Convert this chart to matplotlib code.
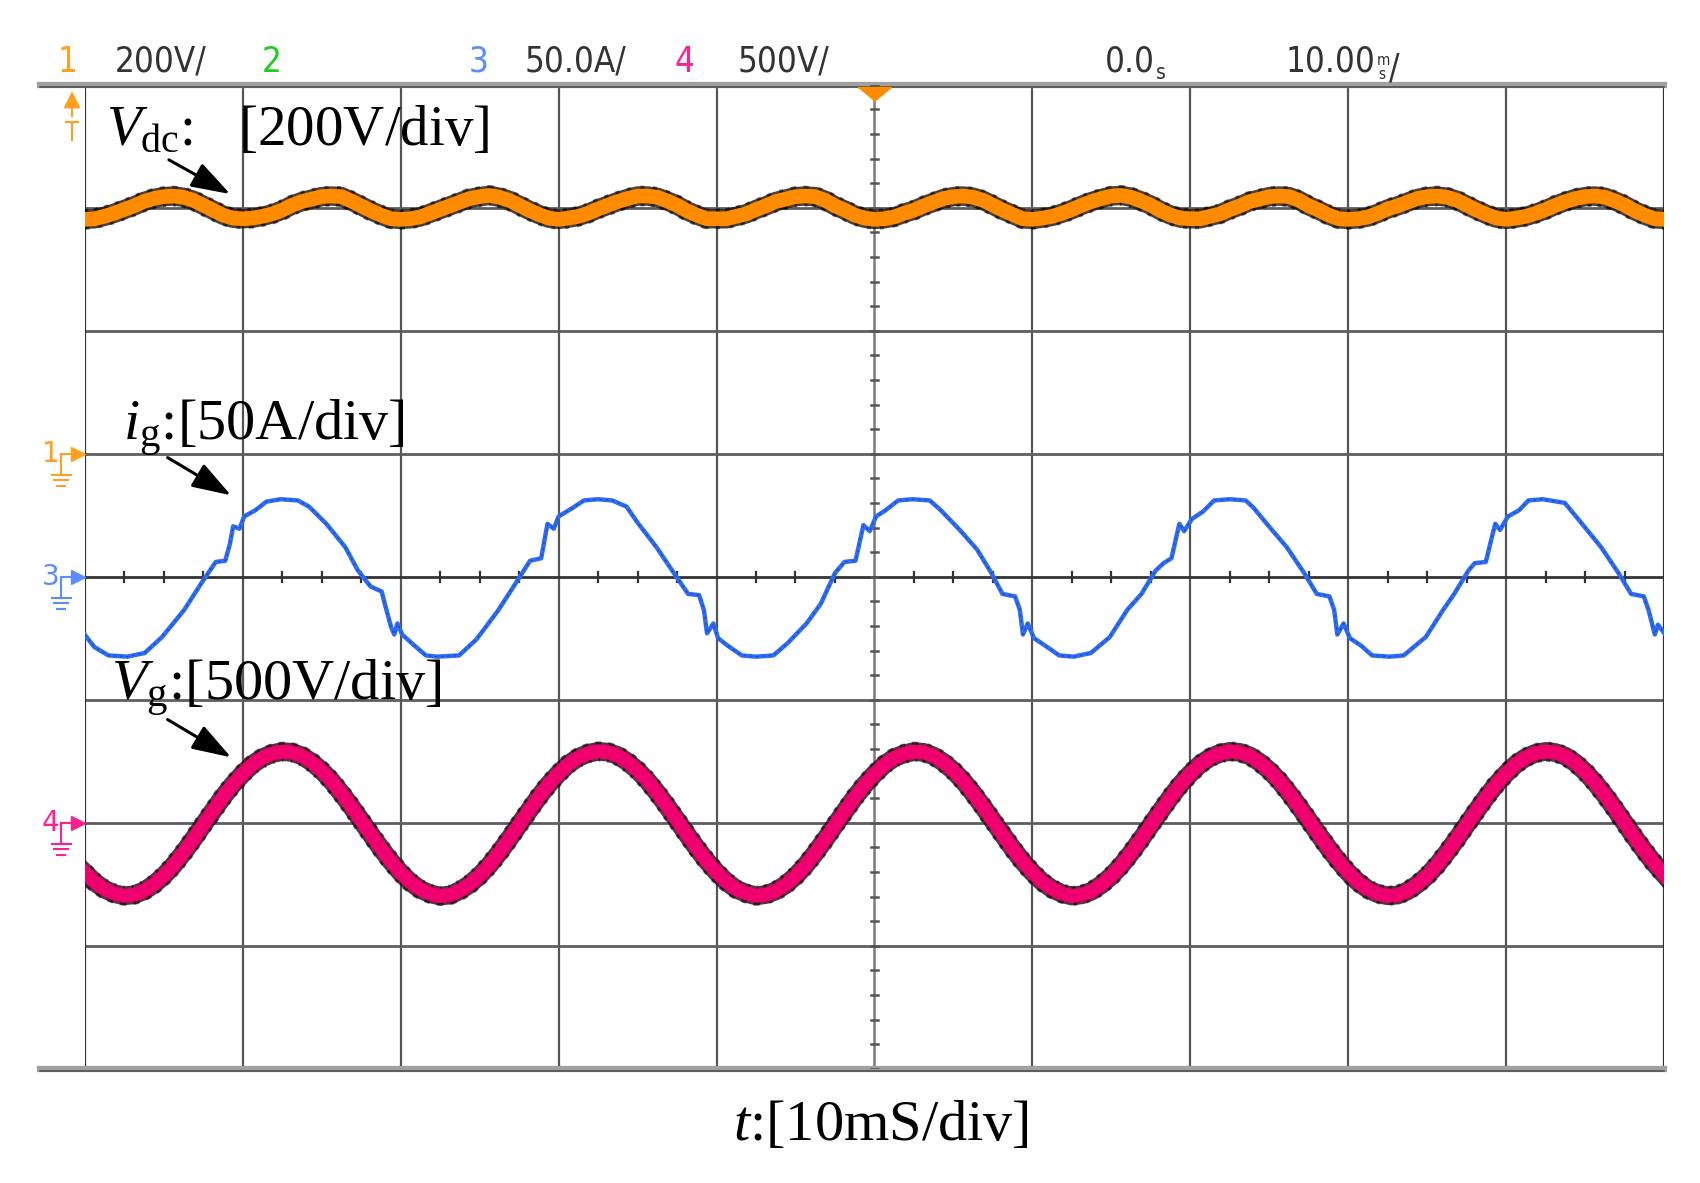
import matplotlib
matplotlib.use('Agg')
import matplotlib.pyplot as plt
import numpy as np

plt.rcParams['mathtext.fontset'] = 'custom'
plt.rcParams['mathtext.rm'] = 'Liberation Serif'
plt.rcParams['mathtext.it'] = 'Liberation Serif:italic'

narrow = ['Liberation Sans Narrow', 'DejaVu Sans Condensed', 'DejaVu Sans']
serif = ['Liberation Serif', 'DejaVu Serif']

# scope settings
ms_div = 10.0        # time base
vdc_div = 200.0      # ch1
ig_div = 50.0        # ch3
vg_div = 500.0       # ch4

# ground levels of the channels (in divisions from screen centre)
gnd1 = 1.0
gnd3 = 0.0
gnd4 = -2.0

# sample clock of ch1 / ch4 (ms)
t_samp = np.arange(0, 100.001, 0.625)

# ch1: dc link voltage (V), 100 Hz ripple
vdc = [381, 382, 386, 391, 397, 403, 410, 415, 418, 419, 417, 412, 404, 396, 388, 383,
       382, 383, 386, 390, 396, 404, 410, 414, 418, 419, 418, 411, 403, 395, 388, 382,
       381, 382, 385, 391, 397, 403, 409, 415, 418, 420, 417, 412, 404, 396, 389, 383,
       381, 383, 386, 391, 398, 404, 410, 415, 419, 419, 417, 411, 404, 395, 388, 382,
       382, 382, 386, 390, 397, 403, 410, 414, 418, 419, 418, 412, 403, 396, 388, 383,
       381, 382, 385, 391, 396, 403, 409, 415, 418, 419, 417, 412, 404, 396, 389, 382,
       381, 383, 386, 391, 397, 404, 410, 415, 419, 420, 417, 411, 404, 395, 388, 383,
       382, 382, 386, 390, 397, 403, 410, 414, 418, 419, 418, 412, 403, 396, 388, 382,
       381, 382, 385, 391, 398, 403, 409, 415, 418, 419, 417, 412, 404, 396, 389, 383,
       381, 383, 386, 391, 397, 404, 410, 415, 418, 419, 417, 411, 404, 395, 388, 382,
       381]

# ch4: grid voltage (V)
vg = [-202, -241, -270, -288, -297, -293, -277, -251, -216, -173, -122, -67, -9, 48, 104, 155,
      199, 237, 264, 281, 289, 286, 272, 246, 212, 170, 120, 66, 9, -48, -104, -156,
      -203, -242, -271, -289, -298, -294, -276, -250, -215, -172, -121, -66, -8, 49, 105, 156,
      200, 238, 265, 282, 290, 287, 273, 247, 213, 171, 121, 67, 10, -47, -103, -155,
      -201, -240, -270, -287, -297, -292, -277, -252, -217, -174, -123, -68, -10, 47, 103, 154,
      198, 236, 264, 280, 289, 286, 271, 245, 211, 169, 119, 65, 8, -49, -105, -157,
      -202, -241, -269, -288, -298, -293, -278, -251, -216, -173, -122, -67, -9, 48, 104, 156,
      200, 238, 265, 282, 290, 286, 272, 246, 212, 170, 120, 66, 9, -48, -104, -156,
      -203, -242, -271, -289, -297, -294, -277, -250, -215, -171, -120, -65, -7, 50, 106, 157,
      201, 239, 266, 283, 290, 285, 270, 243, 206, 162, 111, 56, -2, -60, -115, -166,
      -212]

# ch3: grid current (ms, A)
t_ig = [0, 0.6, 1.5, 2.7, 3.8, 4.9, 6.3, 7.4, 8.3, 8.9, 9.2, 9.4, 9.8, 10.1, 10.8, 11.5,
        12.4, 13.5, 14.2, 15.3, 16.5, 17.3, 18.1, 18.8, 19.0, 19.4, 19.6, 19.8, 20.1, 20.7,
        21.6, 22.3, 23.7, 24.8, 26.2, 27.3, 28.2, 28.9, 29.3, 29.7, 30.0, 30.9, 31.6, 32.5,
        33.4, 34.3, 35.0, 36.2, 37.3, 38.2, 38.9, 39.2, 39.4, 39.8, 40.1, 40.7, 41.6, 42.5,
        43.6, 44.5, 45.7, 46.6, 47.5, 48.1, 48.8, 49.3, 49.7, 50.1, 50.7, 51.5, 52.4, 53.5,
        54.2, 55.4, 56.5, 57.4, 58.1, 58.9, 59.2, 59.4, 59.7, 60.1, 60.8, 61.7, 62.6, 63.7,
        64.9, 66.0, 66.9, 67.8, 68.3, 68.8, 69.3, 69.6, 70.1, 70.8, 71.5, 72.5, 73.5, 74.0,
        74.9, 76.1, 77.2, 78.0, 78.8, 79.1, 79.3, 79.7, 80.1, 80.8, 81.5, 82.6, 83.5, 84.9,
        86.0, 86.7, 87.6, 88.0, 88.7, 89.1, 89.3, 89.6, 90.1, 90.8, 91.4, 92.3, 93.7, 94.6,
        96.0, 97.1, 97.9, 98.7, 99.0, 99.4, 99.6, 100.0]
ig = [-23.5, -28.5, -32, -32.5, -31, -24.5, -13.5, -2.5, 6, 6.5, 13.5, 20.5, 19.5, 24.5, 27, 30.5,
      31.5, 31, 28.5, 21.5, 12, 2.5, -4, -6, -11, -20.5, -23.5, -19, -23.5, -27,
      -32, -32.5, -32, -25.5, -13.5, -2.5, 6.5, 7.5, 21.5, 19.5, 24.5, 28, 31, 31.5,
      31, 28.5, 22, 12, 1.5, -7, -7.5, -13.5, -23, -19, -25, -28, -32, -32.5,
      -32, -27, -19, -11, 1.5, 6, 6.5, 21, 18.5, 24.5, 27, 31, 31.5, 31,
      27, 19, 11, 1.5, -7, -8, -13.5, -23.5, -19, -25, -28, -32, -32.5, -31,
      -24.5, -13.5, -7, 2.5, 5.5, 7.5, 21.5, 18.5, 23.5, 26.5, 31, 31.5, 31, 28,
      21, 12, 1.5, -7, -8, -13.5, -23.5, -19, -25, -28, -32, -32.5, -32, -24.5,
      -13.5, -7, 2.5, 5.5, 6, 16.5, 21.5, 19, 24.5, 27, 31, 31.5, 30, 23,
      12, 1.5, -7, -8, -13.5, -23.5, -19.5, -23]

fig = plt.figure(figsize=(17, 11.83), dpi=100)
ax = fig.add_axes([0.0498, 0.0966, 0.9292, 0.8318])
ax.set_xlim(0, 10)
ax.set_ylim(-4, 4)
ax.axis('off')

# graticule
for gx in range(1, 10):
    if gx != 5:
        ax.plot([gx, gx], [-4, 4], color='#555555', lw=1.6, zorder=1)
ax.plot([5, 5], [-4, 4], color='#7a7a7a', lw=1.8, zorder=1)
for gy in [3, 2, 1, -1, -2, -3]:
    ax.plot([0, 10], [gy, gy], color='#5e5e5e', lw=2.0, zorder=1)
ax.plot([0, 10], [0, 0], color='#333333', lw=2.0, zorder=1)
ax.plot([0, 0], [-4, 4], color='#333333', lw=1.6, zorder=1)
ax.plot([10, 10], [-4, 4], color='#333333', lw=1.6, zorder=1)
for yb in [4, -4]:
    ax.plot([-0.28, 10], [yb, yb], color='#a0a0a0', lw=4.5, clip_on=False, zorder=1)
    ax.plot([-0.28, 10], [yb - 0.02, yb - 0.02], color='#505050', lw=1.2, clip_on=False, zorder=1)

# minor ticks on the centre cross
for yt in np.arange(-4, 4.01, 0.2):
    ax.plot([4.975, 5.025], [yt, yt], color='#555555', lw=1.8, zorder=1)
for xt in np.arange(0.25, 10, 0.25):
    if abs(xt - round(xt)) > 0.01:
        ax.plot([xt, xt], [-0.04, 0.04], color='#333333', lw=1.6, zorder=1)

# traces
x1 = t_samp / ms_div
y1 = gnd1 + np.array(vdc) / vdc_div
ax.plot(x1, y1, color='#201000', lw=14, alpha=0.8, solid_joinstyle='round', zorder=3)
ax.plot(x1, y1, color='#000000', lw=15, alpha=0.5, ls=(0, (0.2, 0.35)), zorder=3)
ax.plot(x1, y1, color='#ff8c00', lw=10.5, solid_joinstyle='round', zorder=4)

y4 = gnd4 + np.array(vg) / vg_div
ax.plot(x1, y4, color='#300014', lw=13.5, alpha=0.8, solid_joinstyle='round', zorder=3)
ax.plot(x1, y4, color='#000000', lw=14.5, alpha=0.5, ls=(0, (0.2, 0.35)), zorder=3)
ax.plot(x1, y4, color='#f0006e', lw=10, solid_joinstyle='round', zorder=4)

x3 = np.array(t_ig) / ms_div
y3 = gnd3 + np.array(ig) / ig_div
ax.plot(x3, y3, color='#2f6cf5', lw=3.2, zorder=4)
ax.plot(x3, y3, color='#0a1a60', lw=0.9, alpha=0.4, ls=(0, (2, 3)), zorder=5)


# channel ground markers on the left edge
def gnd_marker(level, color, label):
    ax.text(-0.215, level, label, color=color, fontsize=20, family=narrow,
            ha='center', va='center', clip_on=False)
    ax.plot([-0.149, -0.06], [level, level], color=color, lw=1.5, clip_on=False)
    ax.plot([-0.045], [level], marker='>', ms=10, color=color, clip_on=False)
    ax.plot([-0.149, -0.149], [level, level - 0.17], color=color, lw=1.5, clip_on=False)
    for dy, hw in [(0.17, 0.06), (0.215, 0.044), (0.26, 0.025)]:
        ax.plot([-0.149 - hw, -0.149 + hw], [level - dy, level - dy], color=color,
                lw=1.5, clip_on=False)


gnd_marker(gnd1, '#ffa020', '1')
gnd_marker(gnd3, '#5b8cff', '3')
gnd_marker(gnd4, '#ff2090', '4')

# trigger level / position markers
ax.annotate('', xy=(-0.08, 3.97), xytext=(-0.08, 3.72),
            arrowprops=dict(arrowstyle='-|>,head_length=0.5,head_width=0.25',
                            color='#ffa020', lw=1.5, mutation_scale=20),
            annotation_clip=False)
ax.plot([-0.115, -0.045], [3.70, 3.70], color='#ffa020', lw=1.5, clip_on=False)
ax.plot([-0.08, -0.08], [3.70, 3.55], color='#ffa020', lw=1.5, clip_on=False)
ax.plot([5], [3.925], marker=[(-1.2, 0.5), (1.2, 0.5), (0, -0.5)], ms=24,
        color='#ff8c00', clip_on=False, zorder=6)

# header line of the scope
hy = 0.9394
hsize = 25
hdr = [(0.0338, '1', '#ffa020'), (0.0676, '200V/', '#333333'),
       (0.1537, '2', '#22cc22'), (0.2755, '3', '#5b8cff'),
       (0.3087, '50.0A/', '#333333'), (0.3967, '4', '#ff2090'),
       (0.4337, '500V/', '#333333')]
for hx, s, c in hdr:
    fig.text(hx, hy, s, color=c, fontsize=hsize, family=narrow, fontstretch='condensed',
             va='baseline')
t_pos = fig.text(0.6499, hy, '0.0', color='#333333', fontsize=hsize, family=narrow,
                 fontstretch='condensed', va='baseline')
ax.annotate('s', xy=(1, 0), xycoords=t_pos, xytext=(1, 0), textcoords='offset points',
            color='#333333', fontsize=15, family=narrow, fontstretch='condensed',
            va='baseline')
t_base = fig.text(0.7564, hy, '10.00', color='#333333', fontsize=hsize, family=narrow,
                  fontstretch='condensed', va='baseline')
ax.annotate('m', xy=(1, 0), xycoords=t_base, xytext=(0.5, 9.5), textcoords='offset points',
            color='#333333', fontsize=11, family=narrow, fontstretch='condensed',
            va='baseline')
ax.annotate('s', xy=(1, 0), xycoords=t_base, xytext=(1.5, 0), textcoords='offset points',
            color='#333333', fontsize=11, family=narrow, fontstretch='condensed',
            va='baseline')
ax.annotate('/', xy=(1, 0), xycoords=t_base, xytext=(9.5, 0), textcoords='offset points',
            color='#333333', fontsize=hsize, family=narrow, fontstretch='condensed',
            va='baseline')

# annotations
arrow_kw = dict(arrowstyle='-|>,head_length=0.6,head_width=0.2', color='black',
                lw=2.2, mutation_scale=40)
fig.text(0.0625, 0.8775, r'$V_{\mathrm{dc}}$:   [200V/div]', fontsize=41, family=serif,
         va='baseline')
ax.annotate('', xy=(0.937, 3.10), xytext=(0.518, 3.40), arrowprops=arrow_kw)
fig.text(0.0721, 0.628, r'$i_{\mathrm{g}}$:[50A/div]', fontsize=42, family=serif,
         va='baseline')
ax.annotate('', xy=(0.942, 0.65), xytext=(0.51, 0.98), arrowprops=arrow_kw)
fig.text(0.0651, 0.4083, r'$V_{\mathrm{g}}$:[500V/div]', fontsize=42, family=serif,
         va='baseline')
ax.annotate('', xy=(0.942, -1.48), xytext=(0.51, -1.15), arrowprops=arrow_kw)

fig.text(0.518, 0.036, r'$t$:[10mS/div]', fontsize=42, family=serif, ha='center',
         va='baseline')

fig.savefig('out.png', dpi=100, facecolor='white')
